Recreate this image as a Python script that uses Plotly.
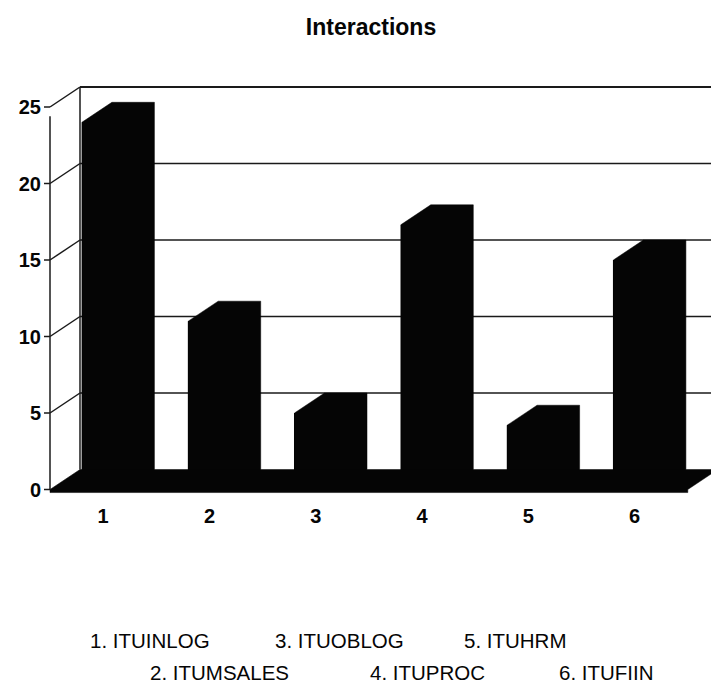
import plotly.graph_objects as go

# ---- data ----
title_text = "Interactions"
categories = [1, 2, 3, 4, 5, 6]
values = [24, 11, 5, 17.3, 4.2, 15]
series_names = ["ITUINLOG", "ITUMSALES", "ITUOBLOG", "ITUPROC", "ITUHRM", "ITUFIIN"]
y_ticks = [0, 5, 10, 15, 20, 25]

# ---- geometry of the pseudo-3D frame ----
W, H = 711, 686
M_L, M_R, M_T, M_B = 42, 0, 69, 190
PX_PER_CAT = 106.3          # pixels per category step
PX_PER_UNIT = 15.3          # pixels per value unit
ZERO_PX = 489.5             # pixel row of value 0 on the front plane
plot_w = W - M_L - M_R
plot_h = H - M_T - M_B
x_lo = 0.5 - 8 / PX_PER_CAT
x_hi = x_lo + plot_w / PX_PER_CAT
y_lo = -((H - M_B) - ZERO_PX) / PX_PER_UNIT
y_hi = y_lo + plot_h / PX_PER_UNIT

DX = 30 / PX_PER_CAT        # depth offset (x)
DY = 20 / PX_PER_UNIT       # depth offset (y)
BAR_W = 0.40
TICK_LEN = 6 / PX_PER_CAT
FLOOR_T = 0.2
X_FRONT_L = categories[0] - 0.5
X_FRONT_R = categories[-1] + 0.5

INK = "#050505"
LINE = "#1a1a1a"
FONT = "Liberation Sans, Arial, sans-serif"

fig = go.Figure()

# front faces of the bars
fig.add_trace(go.Bar(
    x=categories, y=values, width=BAR_W,
    marker=dict(color=INK, line=dict(width=0)),
    hoverinfo="skip", showlegend=False,
))

# full outline of each bar box (front, top and right side faces)
px, py = [], []
for c, v in zip(categories, values):
    xl, xr = c - BAR_W / 2, c + BAR_W / 2
    px += [xl, xl, xl + DX, xr + DX, xr + DX, xr, xl, None]
    py += [0, v, v + DY, v + DY, DY, 0, 0, None]
fig.add_trace(go.Scatter(
    x=px, y=py, mode="lines", fill="toself", fillcolor=INK,
    line=dict(color=INK, width=0.5), hoverinfo="skip", showlegend=False,
))

# black floor slab
fx = [X_FRONT_L, X_FRONT_L + DX, X_FRONT_R + DX, X_FRONT_R, X_FRONT_R, X_FRONT_L, X_FRONT_L]
fy = [0, DY, DY, 0, -FLOOR_T, -FLOOR_T, 0]
fig.add_trace(go.Scatter(
    x=fx, y=fy, mode="lines", fill="toself", fillcolor=INK,
    line=dict(color=INK, width=0.5), hoverinfo="skip", showlegend=False,
))

# walls, gridlines and ticks (behind the bars)
shapes = []
def seg(x0, y0, x1, y1, w=1.5):
    shapes.append(dict(type="line", xref="x", yref="y", x0=x0, y0=y0, x1=x1, y1=y1,
                       line=dict(color=LINE, width=w), layer="below"))

for k in y_ticks:
    seg(X_FRONT_L - TICK_LEN, k, X_FRONT_L, k)
    if k > 0:
        seg(X_FRONT_L, k, X_FRONT_L + DX, k + DY)
        seg(X_FRONT_L + DX, k + DY, x_hi + 1, k + DY, 1.8 if k == y_ticks[-1] else 1.5)
seg(X_FRONT_L, 0, X_FRONT_L, y_ticks[-1] - 0.6)
seg(X_FRONT_L + DX, DY, X_FRONT_L + DX, y_ticks[-1] + DY)

# category key below the chart
def to_paper(xp, yp):
    return (xp - M_L) / plot_w, ((H - M_B) - yp) / plot_h

key_rows = [[0, 2, 4], [1, 3, 5]]
key_left_px = [[88, 273, 462], [148, 368, 557]]
key_row_px = [640, 672]
annotations = []
for row, lefts, ypx in zip(key_rows, key_left_px, key_row_px):
    for i, xpx in zip(row, lefts):
        xa, ya = to_paper(xpx, ypx)
        annotations.append(dict(
            text=f"{categories[i]}. {series_names[i]}", xref="paper", yref="paper",
            x=xa, y=ya, xanchor="left", yanchor="middle", showarrow=False,
            font=dict(family=FONT, size=20.5, color=INK),
        ))

fig.update_layout(
    width=W, height=H,
    margin=dict(l=M_L, r=M_R, t=M_T, b=M_B, pad=0),
    paper_bgcolor="white", plot_bgcolor="white",
    title=dict(text=f"<b>{title_text}</b>", x=371 / W, y=1 - 27 / H,
               xanchor="center", yanchor="middle",
               font=dict(family=FONT, size=23, color=INK)),
    xaxis=dict(range=[x_lo, x_hi], tickmode="array", tickvals=categories,
               ticktext=[f"<b>{c}</b>" for c in categories],
               showgrid=False, zeroline=False, showline=False, ticks="",
               ticklabelstandoff=6,
               tickfont=dict(family=FONT, size=20, color=INK), fixedrange=True),
    yaxis=dict(range=[y_lo, y_hi], tickmode="array", tickvals=y_ticks,
               ticktext=[f"<b>{t}</b>" for t in y_ticks],
               showgrid=False, zeroline=False, showline=False, ticks="",
               ticklabelstandoff=0,
               tickfont=dict(family=FONT, size=20, color=INK), fixedrange=True),
    shapes=shapes, annotations=annotations,
    bargap=0, showlegend=False,
)

fig.write_html("out.html")
